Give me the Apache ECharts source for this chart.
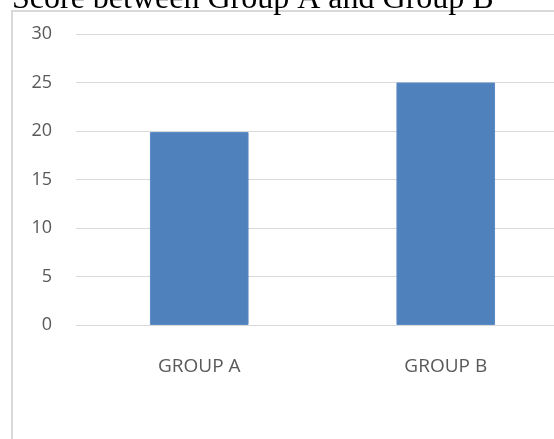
<!DOCTYPE html>
<html>
<head>
<meta charset="utf-8">
<script src="https://cdn.jsdelivr.net/npm/echarts@6/dist/echarts.min.js"></script>
<style>
  html, body { margin: 0; padding: 0; background: #ffffff; }
  #chart { width: 554px; height: 439px; }
</style>
</head>
<body>
<div id="chart"></div>
<script>
// Scores per group
const categories = ['GROUP A', 'GROUP B'];
const scores = [19.9, 25];
const yTicks = [0, 5, 10, 15, 20, 25, 30];

const chart = echarts.init(document.getElementById('chart'), null, { renderer: 'canvas' });

const labelColor = '#595959';
const lineColor = '#d9d9d9';

chart.setOption({
  animation: false,
  backgroundColor: '#ffffff',
  graphic: [
    {
      type: 'rect',
      shape: { x: 12, y: 11, width: 620, height: 460 },
      style: { fill: 'none', stroke: lineColor, lineWidth: 2 },
      silent: true
    },
    {
      type: 'text',
      x: 12,
      y: 16,
      style: {
        text: 'Score between Group A and Group B',
        fontFamily: '"Liberation Serif", "Times New Roman", serif',
        fontSize: 32,
        fill: '#000000',
        verticalAlign: 'bottom',
        align: 'left'
      },
      silent: true
    }
  ],
  // the plot area runs on past the right edge of the canvas
  grid: { left: 76, top: 34, width: 493, height: 291, outerBoundsMode: 'none', containLabel: false },
  xAxis: {
    type: 'category',
    data: categories,
    axisLine: { show: true, lineStyle: { color: lineColor, width: 1 } },
    axisTick: { show: false },
    axisLabel: {
      color: labelColor,
      fontFamily: '"Open Sans", sans-serif',
      fontSize: 19,
      margin: 32
    }
  },
  yAxis: {
    type: 'value',
    min: yTicks[0],
    max: yTicks[yTicks.length - 1],
    interval: yTicks[1] - yTicks[0],
    axisLine: { show: false },
    axisTick: { show: false },
    splitLine: { lineStyle: { color: lineColor, width: 1 } },
    axisLabel: {
      color: labelColor,
      fontFamily: '"Open Sans", sans-serif',
      fontSize: 18,
      margin: 24
    }
  },
  series: [{
    type: 'bar',
    data: scores,
    barWidth: '40%',
    itemStyle: { color: '#4f81bd', borderColor: '#5a8bc6', borderWidth: 1 }
  }]
});
</script>
</body>
</html>
